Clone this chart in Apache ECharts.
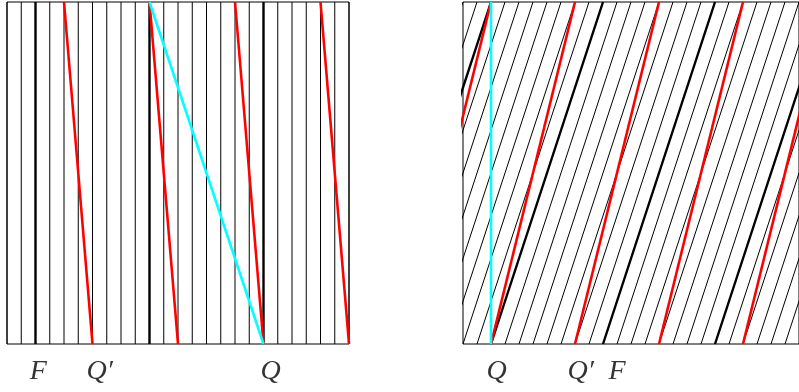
<!DOCTYPE html>
<html>
<head>
<meta charset="utf-8">
<script src="https://cdn.jsdelivr.net/npm/echarts@6/dist/echarts.min.js"></script>
<style>
  html, body { margin: 0; padding: 0; background: #fff; }
  #chart { width: 799px; height: 392px; }
</style>
</head>
<body>
<div id="chart"></div>
<script>
// both panels use a 24 x 24 unit square (one unit = one strip)
const leftVerticals = [0, 1, 2, 3, 4, 5, 6, 7, 8, 9, 10, 11, 12, 13, 14, 15, 16, 17, 18, 19, 20, 21, 22, 23, 24]
const leftThick = [2, 10, 18]
const leftRedTops = [4, 10, 16, 22]
const leftRedShift = 2
const leftCyan = [10, 18] // top, bottom

const rightThinBottoms = [-8, -7, -6, -5, -4, -3, -2, -1, 0, 1, 2, 3, 4, 5, 6, 7, 8, 9, 10, 11, 12, 13, 14, 15, 16, 17, 18, 19, 20, 21, 22, 23]
const rightThinShift = 8
const rightThickBottoms = [-6, 2, 10, 18]
const rightRedBottoms = [-4, 2, 8, 14, 20]
const rightRedShift = 6
const rightCyan = 2

const leftLabels = ['F', 'Q\u2032', 'Q']
const leftLabelAt = [2.2, 6.5, 18.5]
const rightLabels = ['Q', 'Q\u2032', 'F']
const rightLabelAt = [2.4, 8.4, 11.0]

const LABEL_FONT = "'Liberation Serif', 'DejaVu Serif', serif"

function seg(idx, p0, p1, color, width) {
  return {
    type: 'line',
    xAxisIndex: idx,
    yAxisIndex: idx,
    data: [p0, p1],
    symbol: 'none',
    silent: true,
    clip: true,
    lineStyle: { color, width },
  }
}

const series = []

// left panel
leftVerticals.forEach(k => series.push(seg(0, [k, 0], [k, 24], '#000', 1)))
leftThick.forEach(k => series.push(seg(0, [k, 0], [k, 24], '#000', 2.4)))
leftRedTops.forEach(k => series.push(seg(0, [k, 24], [k + leftRedShift, 0], '#ff0000', 2.6)))
series.push(seg(0, [leftCyan[0], 24], [leftCyan[1], 0], '#00ffff', 2.6))

// right panel
rightThinBottoms.forEach(k => series.push(seg(1, [k, 0], [k + rightThinShift, 24], '#000', 1)))
rightThickBottoms.forEach(k => series.push(seg(1, [k, 0], [k + rightThinShift, 24], '#000', 2.4)))
rightRedBottoms.forEach(k => series.push(seg(1, [k, 0], [k + rightRedShift, 24], '#ff0000', 2.6)))
series.push(seg(1, [rightCyan, 0], [rightCyan, 24], '#00ffff', 2.6))

function labelSeries(idx, names, at) {
  return {
    type: 'scatter',
    xAxisIndex: idx,
    yAxisIndex: idx,
    symbolSize: 0,
    silent: true,
    clip: false,
    data: names.map((n, i) => ({ name: n, value: [at[i], 0] })),
    label: {
      show: true,
      position: 'inside',
      offset: [0, 28],
      formatter: '{b}',
      fontFamily: LABEL_FONT,
      fontStyle: 'italic',
      fontSize: 28,
      color: '#000',
    },
  }
}
series.push(labelSeries(0, leftLabels, leftLabelAt))
series.push(labelSeries(1, rightLabels, rightLabelAt))

const axis = (idx) => ({ type: 'value', gridIndex: idx, min: 0, max: 24, show: false })

const chart = echarts.init(document.getElementById('chart'))
chart.setOption({
  animation: false,
  grid: [
    { left: 7, top: 2, width: 342, height: 342, show: true, borderColor: '#000', borderWidth: 1, backgroundColor: 'transparent' },
    { left: 463, top: 2, width: 342, height: 342, show: true, borderColor: '#000', borderWidth: 1, backgroundColor: 'transparent' },
  ],
  xAxis: [axis(0), axis(1)],
  yAxis: [axis(0), axis(1)],
  series,
})
</script>
</body>
</html>
